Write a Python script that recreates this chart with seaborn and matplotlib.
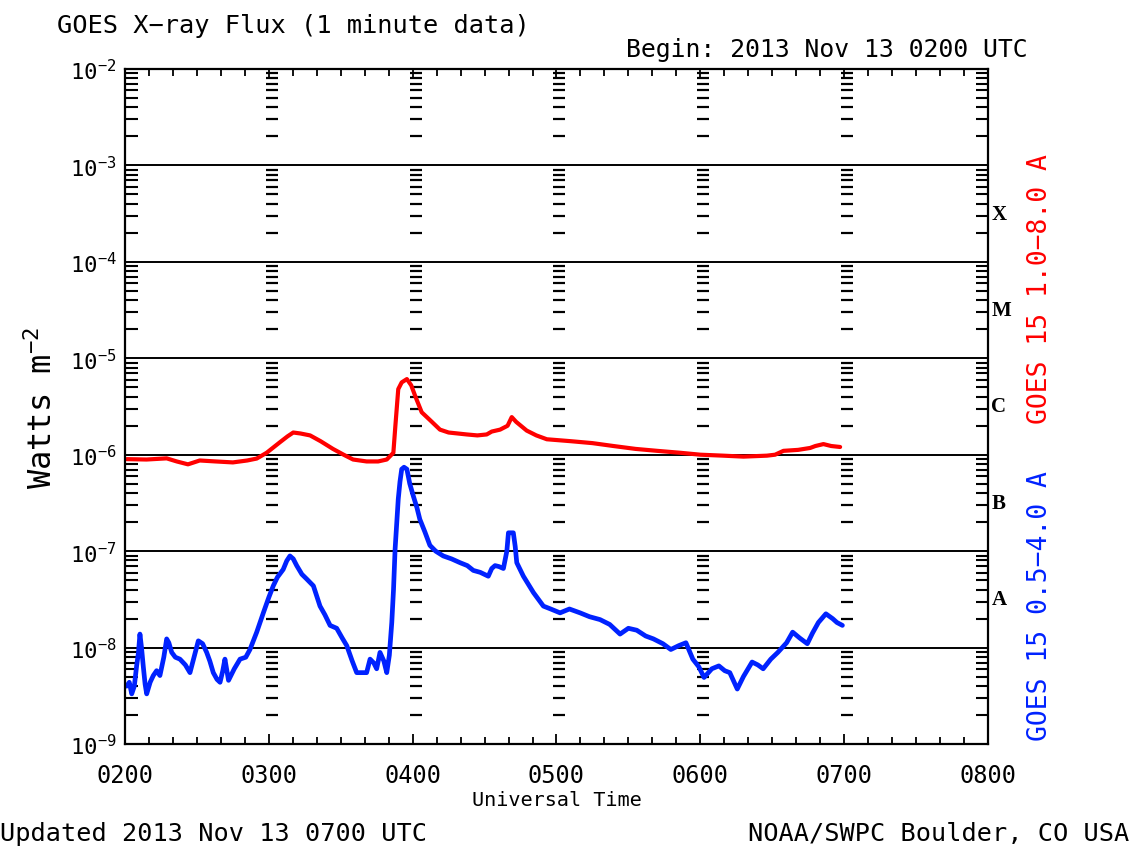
import numpy as np
import pandas as pd
import seaborn as sns
import matplotlib.pyplot as plt
from matplotlib.ticker import LogLocator, NullFormatter

# GOES 15, 13 Nov 2013 -- time in decimal UT hours, flux as log10(W m^-2)
long_hours = [2.012, 2.15, 2.29, 2.36, 2.438, 2.52, 2.63, 2.75, 2.85, 2.916, 2.985,
              3.078, 3.13, 3.17, 3.22, 3.287, 3.36, 3.446, 3.52, 3.586, 3.68, 3.76,
              3.82, 3.866, 3.88, 3.90, 3.924, 3.96, 3.99, 4.02, 4.063, 4.12, 4.19,
              4.25, 4.376, 4.45, 4.515, 4.55, 4.608, 4.66, 4.689, 4.72, 4.793,
              4.86, 4.933, 5.10, 5.25, 5.396, 5.55, 5.70, 5.86, 6.00, 6.16, 6.30,
              6.463, 6.52, 6.578, 6.68, 6.764, 6.80, 6.856, 6.91, 6.972]
long_log = [-6.046, -6.05, -6.038, -6.07, -6.10, -6.06, -6.07, -6.08, -6.06, -6.04, -5.98,
            -5.87, -5.81, -5.77, -5.78, -5.80, -5.86, -5.94, -6.00, -6.05, -6.07, -6.07,
            -6.05, -5.98, -5.70, -5.32, -5.25, -5.216, -5.28, -5.40, -5.56, -5.64, -5.74,
            -5.77, -5.79, -5.80, -5.79, -5.76, -5.74, -5.70, -5.61, -5.66, -5.75,
            -5.80, -5.84, -5.86, -5.88, -5.91, -5.94, -5.96, -5.98, -6.00, -6.01, -6.02,
            -6.01, -6.00, -5.96, -5.95, -5.93, -5.91, -5.89, -5.91, -5.92]

short_hours = [2.012, 2.03, 2.047, 2.065, 2.081, 2.094, 2.104, 2.115, 2.127, 2.14, 2.151,
               2.175, 2.197, 2.22, 2.243, 2.27, 2.29, 2.305, 2.325, 2.35, 2.382, 2.42,
               2.452, 2.48, 2.51, 2.54, 2.568, 2.59, 2.614, 2.64, 2.661, 2.68, 2.695,
               2.72, 2.76, 2.80, 2.84, 2.869, 2.916, 2.962, 3.00, 3.031, 3.06, 3.10,
               3.125, 3.147, 3.17, 3.194, 3.23, 3.264, 3.31, 3.356, 3.39, 3.426, 3.472,
               3.51, 3.542, 3.58, 3.611, 3.65, 3.68, 3.704, 3.73, 3.75, 3.773, 3.80,
               3.82, 3.838, 3.855, 3.867, 3.878, 3.89, 3.90, 3.912, 3.924, 3.94, 3.96,
               3.98, 4.005, 4.03, 4.05, 4.085, 4.12, 4.16, 4.213, 4.27, 4.33, 4.38,
               4.422, 4.47, 4.526, 4.55, 4.573, 4.60, 4.631, 4.655, 4.666, 4.70,
               4.713, 4.724, 4.77, 4.84, 4.909, 4.96, 5.025, 5.09, 5.164, 5.23,
               5.303, 5.37, 5.442, 5.50, 5.558, 5.62, 5.674, 5.74, 5.795, 5.85, 5.90,
               5.948, 5.99, 6.026, 6.08, 6.129, 6.17, 6.205, 6.257, 6.30, 6.36,
               6.40, 6.437, 6.49, 6.539, 6.60, 6.642, 6.69, 6.744, 6.78, 6.821,
               6.873, 6.92, 6.95, 6.988]
short_log = [-8.40, -8.36, -8.48, -8.40, -8.19, -8.05, -7.86, -8.00, -8.19, -8.38, -8.48,
             -8.36, -8.29, -8.24, -8.29, -8.10, -7.91, -7.95, -8.05, -8.10, -8.12, -8.18,
             -8.26, -8.10, -7.93, -7.96, -8.05, -8.14, -8.26, -8.33, -8.36, -8.24, -8.12,
             -8.34, -8.22, -8.12, -8.10, -8.02, -7.84, -7.64, -7.48, -7.36, -7.27, -7.19,
             -7.10, -7.05, -7.08, -7.15, -7.24, -7.29, -7.36, -7.57, -7.66, -7.77, -7.80,
             -7.90, -7.98, -8.14, -8.26, -8.26, -8.26, -8.12, -8.16, -8.22, -8.05, -8.14,
             -8.26, -8.08, -7.74, -7.40, -6.98, -6.70, -6.46, -6.28, -6.15, -6.13, -6.15,
             -6.30, -6.43, -6.55, -6.67, -6.80, -6.94, -7.00, -7.05, -7.08, -7.12, -7.15,
             -7.20, -7.22, -7.26, -7.18, -7.15, -7.16, -7.18, -7.00, -6.81, -6.81,
             -6.95, -7.12, -7.26, -7.43, -7.57, -7.60, -7.64, -7.60, -7.64, -7.68,
             -7.71, -7.76, -7.86, -7.80, -7.82, -7.88, -7.91, -7.96, -8.02, -7.98, -7.95,
             -8.12, -8.20, -8.31, -8.22, -8.19, -8.24, -8.26, -8.43, -8.30, -8.15,
             -8.18, -8.22, -8.12, -8.05, -7.95, -7.84, -7.90, -7.96, -7.85, -7.74,
             -7.65, -7.70, -7.74, -7.77]

hour_ticks = [2, 3, 4, 5, 6, 7, 8]
hour_labels = ['0200', '0300', '0400', '0500', '0600', '0700', '0800']
decades = [-9, -8, -7, -6, -5, -4, -3, -2]
flare_classes = ['A', 'B', 'C', 'M', 'X']
class_levels = [-7.5, -6.5, -5.5, -4.5, -3.5]

sns.set_style('ticks')
plt.rcParams['font.family'] = ['DejaVu Sans Mono', 'DejaVu Sans']
plt.rcParams['mathtext.fontset'] = 'custom'
plt.rcParams['mathtext.rm'] = 'DejaVu Sans Mono'
plt.rcParams['mathtext.it'] = 'DejaVu Sans Mono'
plt.rcParams['text.color'] = 'black'
plt.rcParams['axes.labelcolor'] = 'black'
plt.rcParams['xtick.color'] = 'black'
plt.rcParams['ytick.color'] = 'black'

fig = plt.figure(figsize=(11.33, 8.53), dpi=100)
ax = fig.add_axes([0.1103, 0.1266, 0.7617, 0.7914])

df_long = pd.DataFrame({'hour': long_hours, 'flux': 10.0 ** np.array(long_log)})
df_short = pd.DataFrame({'hour': short_hours, 'flux': 10.0 ** np.array(short_log)})

sns.lineplot(data=df_long, x='hour', y='flux', color='#ff0000', lw=3,
             estimator=None, sort=False, ax=ax)
sns.lineplot(data=df_short, x='hour', y='flux', color='#0022ff', lw=3.4,
             estimator=None, sort=False, ax=ax)

ax.set_yscale('log')
ax.set_xlim(2, 8)
ax.set_ylim(1e-9, 1e-2)

# decade grid lines
for d in decades[1:-1]:
    ax.axhline(10.0 ** d, color='black', lw=1.4, zorder=1)

# tick columns at every interior hour
minor_vals = [m * 10.0 ** d for d in decades[:-1] for m in range(2, 10)]
for h in hour_ticks[1:-1]:
    ax.plot([h + 0.02] * len(minor_vals), minor_vals, ls='none', marker='_',
            ms=9, mew=1.6, color='black', zorder=1)

ax.set_xticks(hour_ticks, labels=hour_labels)
ax.set_xticks(np.arange(2, 8, 1 / 6), minor=True)
ax.set_yticks([10.0 ** d for d in decades], labels=[f'$10^{{\u2212{-d}}}$' for d in decades])
ax.yaxis.set_minor_locator(LogLocator(base=10, subs=range(2, 10), numticks=20))
ax.yaxis.set_minor_formatter(NullFormatter())

ax.tick_params(axis='x', which='major', direction='in', top=True, bottom=True,
               length=7, width=1.3, labelsize=17, pad=14)
ax.tick_params(axis='x', which='minor', direction='in', top=True, bottom=True,
               length=5, width=1.3)
ax.tick_params(axis='y', which='major', direction='in', left=True, right=True,
               length=0, labelsize=16, pad=6)
ax.tick_params(axis='y', which='minor', direction='in', left=True, right=True,
               length=9, width=1.5)
for s in ax.spines.values():
    s.set_linewidth(1.6)
    s.set_color('black')

ax.set_xlabel('Universal Time', fontsize=14.5, labelpad=2)
ax.set_ylabel('Watts m$^{\u22122}$', fontsize=23, labelpad=8)

# flare class letters
for c, lv in zip(flare_classes, class_levels):
    ax.text(1.004, 10.0 ** lv, c, transform=ax.get_yaxis_transform(),
            fontsize=15, fontweight='bold', family='Liberation Serif', va='center')

fig.text(0.050, 0.969, 'GOES X\u2212ray Flux (1 minute data)', fontsize=18.3, va='center')
fig.text(0.907, 0.941, 'Begin: 2013 Nov 13 0200 UTC', fontsize=17.8, va='center', ha='right')
fig.text(0.918, 0.661, 'GOES 15 1.0\u22128.0 A', fontsize=19, color='#ff0000',
         rotation=90, ha='center', va='center')
fig.text(0.918, 0.290, 'GOES 15 0.5\u22124.0 A', fontsize=19, color='#0022ff',
         rotation=90, ha='center', va='center')
fig.text(0.0, 0.022, 'Updated 2013 Nov 13 0700 UTC', fontsize=18.2, va='center')
fig.text(0.997, 0.022, 'NOAA/SWPC Boulder, CO USA', fontsize=18.2, va='center', ha='right')

fig.savefig('out.png', dpi=100)
